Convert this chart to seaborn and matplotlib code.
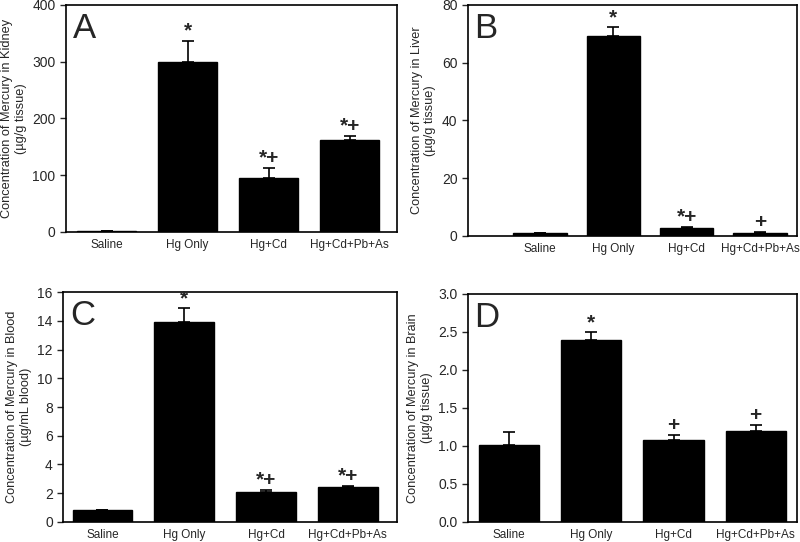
import numpy as np
import pandas as pd
import matplotlib
matplotlib.use("Agg")
import matplotlib.pyplot as plt
import seaborn as sns

groups = ["Saline", "Hg Only", "Hg+Cd", "Hg+Cd+Pb+As"]

kidney_mean = [1.0, 300.0, 95.0, 162.0]
kidney_err = [0.5, 37.0, 18.0, 7.0]
kidney_marks = ["", "*", "*+", "*+"]

liver_mean = [0.9, 69.2, 2.8, 1.0]
liver_err = [0.1, 3.0, 0.4, 0.3]
liver_marks = ["", "*", "*+", "+"]

blood_mean = [0.8, 13.9, 2.1, 2.4]
blood_err = [0.03, 1.0, 0.1, 0.07]
blood_marks = ["", "*", "*+", "*+"]

brain_mean = [1.01, 2.40, 1.08, 1.20]
brain_err = [0.18, 0.10, 0.07, 0.08]
brain_marks = ["", "*", "+", "+"]

sns.set_style("ticks")
plt.rcParams["font.family"] = ["Liberation Sans", "DejaVu Sans"]

fig = plt.figure(figsize=(8, 5.42), dpi=100)

panels = [
    # letter, mean, err, marks, ylabel, ylim, yticks, rect, xlim
    ("A", kidney_mean, kidney_err, kidney_marks,
     "Concentration of Mercury in Kidney\n(\u00b5g/g tissue)",
     (0, 400), np.arange(0, 401, 100), [0.0825, 0.572, 0.4135, 0.419], (-0.5, 3.58)),
    ("B", liver_mean, liver_err, liver_marks,
     "Concentration of Mercury in Liver\n(\u00b5g/g tissue)",
     (0, 80), np.arange(0, 81, 20), [0.585, 0.5646, 0.411, 0.4264], (-0.98, 3.5)),
    ("C", blood_mean, blood_err, blood_marks,
     "Concentration of Mercury in Blood\n(\u00b5g/mL blood)",
     (0, 16), np.arange(0, 17, 2), [0.079, 0.037, 0.417, 0.424], (-0.48, 3.6)),
    ("D", brain_mean, brain_err, brain_marks,
     "Concentration of Mercury in Brain\n(\u00b5g/g tissue)",
     (0, 3), np.arange(0, 3.01, 0.5), [0.585, 0.037, 0.411, 0.4206], (-0.5, 3.5)),
]

for letter, mean, err, marks, ylabel, ylim, yticks, rect, xlim in panels:
    ax = fig.add_axes(rect)
    df = pd.DataFrame({"group": groups, "value": mean})
    sns.barplot(data=df, x="group", y="value", color="black", width=0.73,
                edgecolor="black", ax=ax)
    x = np.arange(len(groups))
    ax.errorbar(x, mean, yerr=[np.zeros(len(err)), err], fmt="none",
                ecolor="black", elinewidth=1.2, capsize=4, capthick=1.2)
    for xi, m, e, s in zip(x, mean, err, marks):
        if s:
            ax.annotate(s, (xi, m + e), xytext=(0, 0), textcoords="offset points",
                        ha="center", va="bottom", fontsize=15, fontweight="bold")
    ax.set_ylim(*ylim)
    ax.set_xlim(*xlim)
    ax.set_yticks(yticks)
    if letter == "D":
        ax.set_yticklabels([f"{t:.1f}" for t in yticks])
    ax.set_xlabel("")
    ax.set_ylabel(ylabel, fontsize=9.2, labelpad=4)
    ax.tick_params(axis="y", labelsize=10, length=4, direction="out", width=1)
    ax.tick_params(axis="x", labelsize=8.5, length=0, pad=5)
    for sp in ax.spines.values():
        sp.set_visible(True)
        sp.set_linewidth(1.2)
        sp.set_color("black")
    ax.text(0.02, 0.97, letter, transform=ax.transAxes, fontsize=25,
            ha="left", va="top")

fig.savefig("out.png", dpi=100)
